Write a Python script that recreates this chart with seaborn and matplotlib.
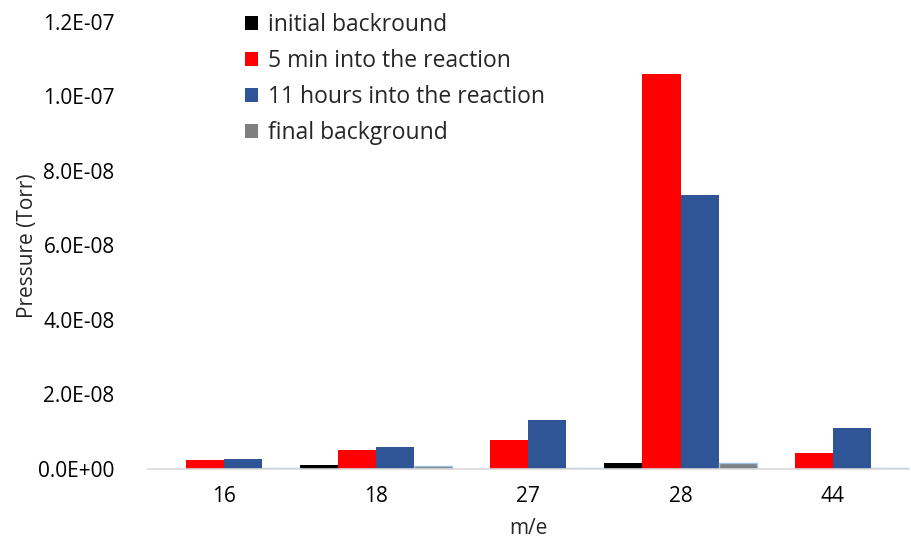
import pandas as pd
import seaborn as sns
import matplotlib.pyplot as plt
from matplotlib.ticker import FuncFormatter

# m/e values on the x axis
mass = ['16', '18', '27', '28', '44']

# Pressure readings (Torr)
initial_bg = [0.0, 0.10e-8, 0.0, 0.17e-8, 0.0]
five_min = [0.24e-8, 0.51e-8, 0.78e-8, 10.6e-8, 0.43e-8]
eleven_hours = [0.27e-8, 0.59e-8, 1.32e-8, 7.35e-8, 1.10e-8]
final_bg = [0.02e-8, 0.08e-8, 0.03e-8, 0.16e-8, 0.02e-8]

series_names = ['initial backround', '5 min into the reaction',
                '11 hours into the reaction', 'final background']
colors = ['#000000', '#FF0000', '#2F5597', '#7F7F7F']

# long format for seaborn
df = pd.DataFrame({
    'm/e': mass * 4,
    'pressure': initial_bg + five_min + eleven_hours + final_bg,
    'series': sum([[n] * len(mass) for n in series_names], []),
})

sns.set_style('white')
plt.rcParams['font.family'] = ['Open Sans', 'DejaVu Sans']

fig = plt.figure(figsize=(9.11, 5.47), dpi=100)
ax = fig.add_axes([0.1625, 0.1426, 0.835, 0.8172])

sns.barplot(data=df, x='m/e', y='pressure', hue='series', order=mass,
            hue_order=series_names, palette=colors, width=1.0, gap=0,
            saturation=1, linewidth=0, ax=ax)

# light blue outline on the final background bars, like the original
for bar in ax.containers[3]:
    bar.set_edgecolor('#9DC3E6')
    bar.set_linewidth(1.0)

ax.set_ylim(0, 1.2e-7)
ax.set_xlim(-0.5, 4.5)
ax.set_yticks([i * 2e-8 for i in range(7)])
ax.yaxis.set_major_formatter(FuncFormatter(lambda v, p: f'{v:.1E}'))
ax.tick_params(axis='both', labelsize=15, colors='#000000', length=0)
ax.tick_params(axis='y', pad=24)
ax.tick_params(axis='x', pad=12)

for s in ['top', 'right', 'left']:
    ax.spines[s].set_visible(False)
ax.spines['bottom'].set_color('#D9D9D9')
ax.spines['bottom'].set_linewidth(1.2)

ax.set_xlabel('m/e', fontsize=15, labelpad=8)
ax.set_ylabel('Pressure (Torr)', fontsize=15, labelpad=0)

ax.legend(loc='upper left', bbox_to_anchor=(0.1, 1.066), frameon=False,
          fontsize=16.5, handlelength=0.6, handleheight=0.6,
          handletextpad=0.4, labelspacing=0.52)

fig.savefig('out.png', dpi=100)
